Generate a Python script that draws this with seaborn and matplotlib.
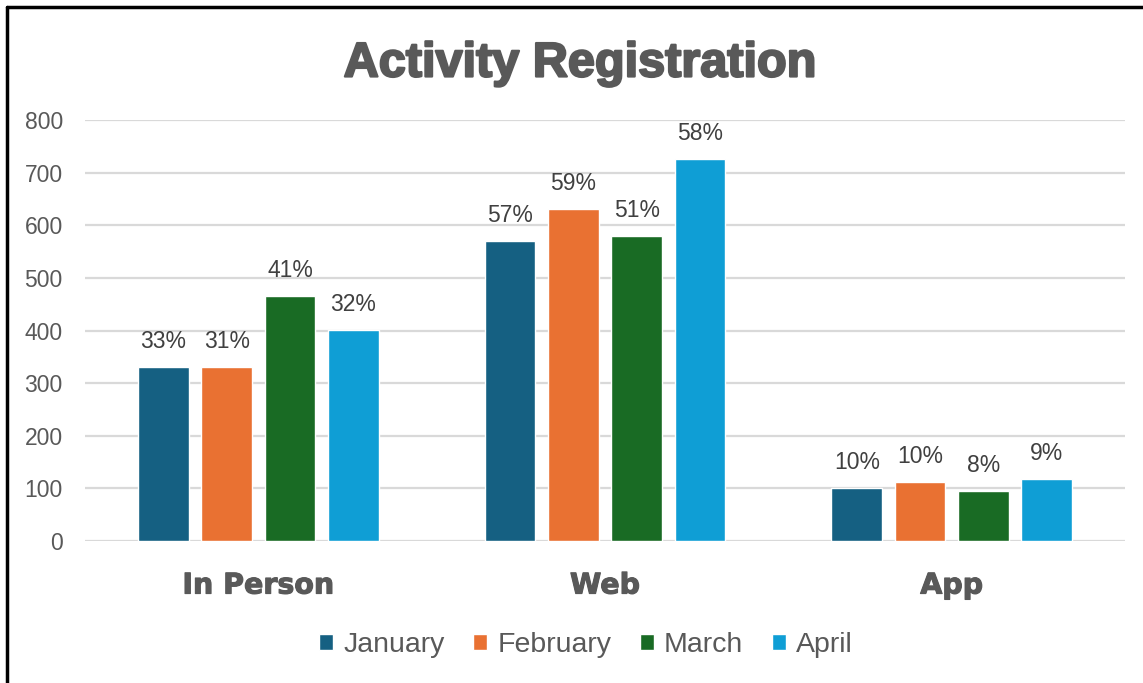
import pandas as pd
import matplotlib
matplotlib.use('Agg')
import matplotlib.pyplot as plt
import matplotlib.patheffects as pe
from matplotlib.lines import Line2D
import seaborn as sns

# Chart data
channels = ['In Person', 'Web', 'App']
months = ['January', 'February', 'March', 'April']
january = [331, 571, 101]
february = [331, 631, 112]
march = [466, 580, 95]
april = [401, 726, 118]
share_labels = {
    'January': ['33%', '57%', '10%'],
    'February': ['31%', '59%', '10%'],
    'March': ['41%', '51%', '8%'],
    'April': ['32%', '58%', '9%'],
}
colors = ['#156082', '#E97132', '#196B24', '#0F9ED5']

# Long form table for seaborn
values = {'January': january, 'February': february, 'March': march, 'April': april}
rows = []
for m in months:
    for ch, v in zip(channels, values[m]):
        rows.append({'Channel': ch, 'Month': m, 'Count': v})
df = pd.DataFrame(rows)

sns.set_theme(style='white')
plt.rcParams['font.family'] = ['Liberation Sans', 'DejaVu Sans']

fig = plt.figure(figsize=(11.43, 6.83), dpi=100)
ax = fig.add_axes([85 / 1143, 142 / 683, 1040 / 1143, 421 / 683])

sns.barplot(data=df, x='Channel', y='Count', hue='Month', order=channels,
            hue_order=months, palette=colors, width=0.73, gap=0.2,
            saturation=1, ax=ax, legend=True)

# percentage labels above bars
for cont, m in zip(ax.containers, months):
    ax.bar_label(cont, labels=share_labels[m], padding=10, fontsize=16.5,
                 color='#404040')

ax.set_ylim(0, 800)
ax.set_xlim(-0.5, 2.5)
ax.set_yticks(range(0, 801, 100))
ax.yaxis.grid(True, color='#D9D9D9', linewidth=1.6)
ax.set_axisbelow(True)
for s in ax.spines.values():
    s.set_visible(False)
ax.set_xlabel('')
ax.set_ylabel('')
ax.tick_params(axis='y', length=0, pad=16, labelsize=16.5, labelcolor='#595959')
ax.tick_params(axis='x', length=0, pad=22)
for lbl in ax.get_xticklabels():
    lbl.set_fontfamily('DejaVu Sans')
    lbl.set_fontweight('bold')
    lbl.set_fontsize(20.5)
    lbl.set_color('#595959')
    lbl.set_path_effects([pe.withStroke(linewidth=0.8, foreground='#595959')])

# legend at the bottom
handles, labels = ax.get_legend_handles_labels()
ax.get_legend().remove()
fig.legend(handles, labels, loc='center', bbox_to_anchor=(586 / 1143, 38 / 683),
           ncol=4, frameon=False, fontsize=20.5, handlelength=0.5,
           handleheight=0.5, handletextpad=0.35, columnspacing=1.0,
           labelcolor='#595959')

fig.text(580 / 1143, 1 - 64 / 683, 'Activity Registration', ha='center',
         va='center', fontsize=35, fontweight='bold', color='#595959',
         path_effects=[pe.withStroke(linewidth=1.6, foreground='#595959')])

# partial black frame (top and left)
fig.add_artist(Line2D([7 / 1143, 1], [1 - 7 / 683, 1 - 7 / 683],
                      transform=fig.transFigure, color='black', linewidth=2.5))
fig.add_artist(Line2D([7 / 1143, 7 / 1143], [0, 1 - 7 / 683],
                      transform=fig.transFigure, color='black', linewidth=2.5))

fig.savefig('out.png', dpi=100)
